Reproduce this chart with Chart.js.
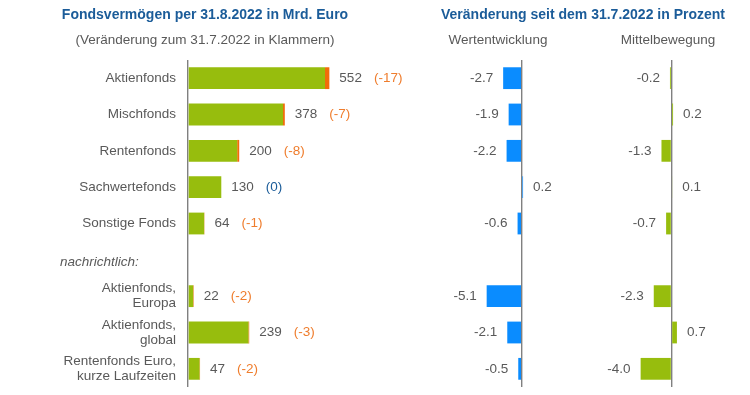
<!DOCTYPE html>
<html>
<head>
<meta charset="utf-8">
<script src="https://cdn.jsdelivr.net/npm/chart.js@4/dist/chart.umd.min.js"></script>
<style>
  html, body { margin: 0; padding: 0; background: #fff; }
  #wrap { position: relative; width: 750px; height: 395px; }
</style>
</head>
<body>
<div id="wrap"><canvas id="c" width="750" height="395"></canvas></div>
<script>
// data
const categories = [
  "Aktienfonds", "Mischfonds", "Rentenfonds", "Sachwertefonds", "Sonstige Fonds",
  "nachrichtlich:",
  ["Aktienfonds,", "Europa"], ["Aktienfonds,", "global"], ["Rentenfonds Euro,", "kurze Laufzeiten"]
];
const noteRow = 5;
const volume = [552, 378, 200, 130, 64, null, 22, 239, 47];       // Mrd. Euro
const volumeChange = [-17, -7, -8, 0, -1, null, -2, -3, -2];      // vs. 31.7.2022
const performance = [-2.7, -1.9, -2.2, 0.2, -0.6, null, -5.1, -2.1, -0.5];
const flows = [-0.2, 0.2, -1.3, 0.1, -0.7, null, -2.3, 0.7, -4.0];

const GREEN = "#97bd0d", ORANGE = "#f26c0a", BLUE = "#0a8cff";
const TXT = "#595959", TITLE = "#1b5c99", ORANGE_TXT = "#ef7d2d", AXIS = "#808080";
const FONT = "'Liberation Sans', Arial, sans-serif";

// green part + orange part (size of the decline) stack to the current volume
const greenPart = volume.map((v, i) => v == null ? null : v - Math.max(0, -volumeChange[i]));
const orangePart = volumeChange.map(c => c == null ? null : Math.max(0, -c));

const zeroLine = ctx => (ctx.tick && ctx.tick.value === 0) ? AXIS : "rgba(0,0,0,0)";
const hiddenAxis = (min, max, weight) => ({
  type: "linear", position: "bottom", stack: "panels", stackWeight: weight,
  min, max, stacked: true,
  ticks: { display: false, stepSize: 0.1 },
  grid: { drawTicks: false, color: zeroLine, lineWidth: 1.4 },
  border: { display: false }
});

const textPlugin = {
  id: "texts",
  afterDatasetsDraw(chart) {
    const { ctx, scales } = chart;
    const y = scales.y;
    ctx.save();
    ctx.textBaseline = "middle";

    // headings
    ctx.textAlign = "center";
    ctx.fillStyle = TITLE;
    ctx.font = "bold 14px " + FONT;
    ctx.fillText("Fondsvermögen per 31.8.2022 in Mrd. Euro", 205, 15);
    ctx.fillText("Veränderung seit dem 31.7.2022 in Prozent", 583, 15);
    ctx.fillStyle = TXT;
    ctx.font = "13.5px " + FONT;
    ctx.fillText("(Veränderung zum 31.7.2022 in Klammern)", 205, 40);
    ctx.fillText("Wertentwicklung", 498, 40);
    ctx.fillText("Mittelbewegung", 668, 40);

    // note row
    ctx.textAlign = "left";
    ctx.font = "italic 13.5px " + FONT;
    ctx.fillText(categories[noteRow], 60, y.getPixelForValue(noteRow) + 2);

    // value labels
    ctx.font = "13.5px " + FONT;
    volume.forEach((v, i) => {
      if (v == null) return;
      const py = y.getPixelForValue(i);
      let px = scales.x0.getPixelForValue(v) + 10;
      ctx.textAlign = "left";
      ctx.fillStyle = TXT;
      const s = String(v);
      ctx.fillText(s, px, py);
      px += ctx.measureText(s).width + 12;
      const c = volumeChange[i];
      ctx.fillStyle = c === 0 ? TITLE : ORANGE_TXT;
      ctx.fillText("(" + c + ")", px, py);
    });
    [[performance, scales.x1], [flows, scales.x2]].forEach(([arr, sc]) => {
      arr.forEach((v, i) => {
        if (v == null) return;
        const py = y.getPixelForValue(i);
        const px = sc.getPixelForValue(v);
        ctx.fillStyle = TXT;
        ctx.textAlign = v < 0 ? "right" : "left";
        ctx.fillText(v.toFixed(1), v < 0 ? px - 10 : px + 10, py);
      });
    });
    ctx.restore();
  }
};

new Chart(document.getElementById("c"), {
  type: "bar",
  data: {
    labels: categories,
    datasets: [
      { data: greenPart, backgroundColor: GREEN, xAxisID: "x0", stack: "all" },
      { data: orangePart, backgroundColor: ORANGE, xAxisID: "x0", stack: "all" },
      { data: performance, backgroundColor: BLUE, xAxisID: "x1", stack: "all" },
      { data: flows, backgroundColor: GREEN, xAxisID: "x2", stack: "all" }
    ]
  },
  options: {
    indexAxis: "y",
    responsive: false,
    animation: false,
    categoryPercentage: 0.6,
    barPercentage: 1,
    layout: { padding: { top: 60, bottom: 8, right: 9, left: 0 } },
    plugins: { legend: { display: false }, tooltip: { enabled: false } },
    scales: {
      y: {
        stacked: true,
        grid: { display: false, drawTicks: false },
        border: { display: false },
        afterFit: s => { s.width = 188; s.paddingTop = 0; s.paddingBottom = 0; },
        ticks: {
          color: TXT,
          padding: 12,
          font: { family: FONT, size: 13.5, lineHeight: 1.12 },
          callback: (v, i) => i === noteRow ? "" : categories[i]
        }
      },
      x0: hiddenAxis(0, 1000, 255.4),
      x1: hiddenAxis(-11.3, 11.7, 157.5),
      x2: hiddenAxis(-9, 9, 138.6)
    }
  },
  plugins: [textPlugin]
});
</script>
</body>
</html>
